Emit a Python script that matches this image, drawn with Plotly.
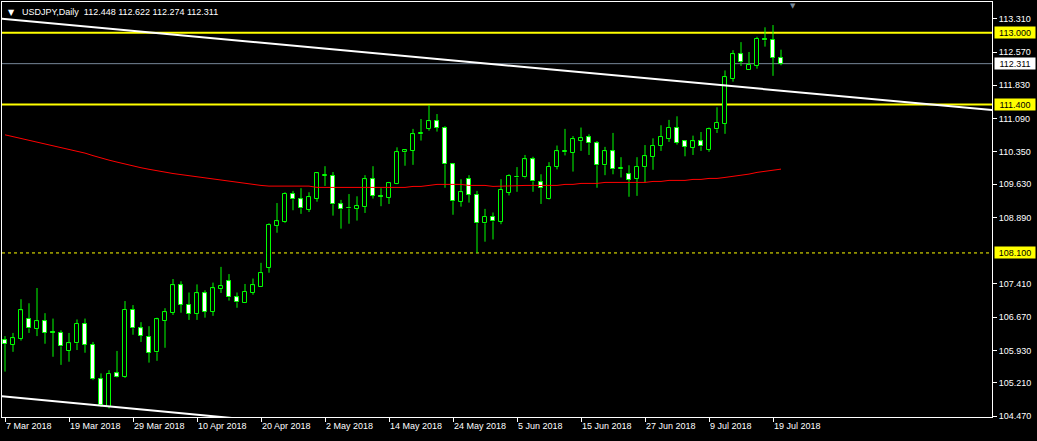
import plotly.graph_objects as go
import pandas as pd

# ---------------- data ----------------
dates = [d.strftime("%Y-%m-%d") for d in pd.bdate_range("2018-03-07", "2018-07-20")]

opens = [106.16, 106.06, 106.19, 106.64, 106.41, 106.58, 106.34, 106.33, 105.92, 106.09,
         106.53, 106.06, 105.29, 104.68, 105.42, 105.34, 106.84, 106.42, 106.24, 105.89,
         106.59, 106.77, 107.38, 106.95, 106.75, 107.20, 106.79, 107.30, 107.47, 107.11,
         106.99, 107.21, 107.35, 107.77, 108.70, 108.79, 109.42, 109.29, 109.06, 109.31,
         109.82, 109.82, 109.18, 109.11, 109.08, 109.13, 109.74, 109.37, 109.33, 109.64,
         110.34, 110.37, 110.74, 110.86, 111.03, 110.89, 110.07, 109.24, 109.74, 109.40,
         108.76, 108.91, 108.79, 109.44, 109.80, 109.78, 110.18, 109.67, 109.29, 110.02,
         110.34, 110.33, 110.60, 110.67, 110.54, 110.05, 110.36, 109.96, 109.85, 109.75,
         110.02, 110.24, 110.48, 110.64, 110.89, 110.58, 110.44, 110.58, 110.40, 110.85,
         110.97, 111.98, 112.52, 112.18, 112.26, 112.85, 112.84, 112.448]
highs = [106.25, 106.32, 107.07, 106.98, 107.32, 106.76, 106.64, 106.38, 106.32, 106.62,
         106.64, 106.12, 105.42, 105.49, 105.92, 107.03, 106.94, 106.56, 106.47, 106.66,
         106.87, 107.52, 107.47, 107.22, 107.40, 107.27, 107.44, 107.79, 107.63, 107.22,
         107.41, 107.53, 107.88, 108.76, 109.21, 109.45, 109.48, 109.54, 109.45, 109.90,
         110.03, 109.90, 109.28, 109.41, 109.36, 109.83, 110.03, 109.54, 109.68, 110.45,
         110.40, 110.86, 111.08, 111.39, 111.19, 110.92, 110.10, 109.74, 109.83, 109.48,
         109.08, 109.00, 109.74, 109.85, 110.01, 110.28, 110.24, 109.85, 110.12, 110.49,
         110.86, 110.70, 110.89, 110.74, 110.59, 110.46, 110.77, 110.23, 110.05, 110.23,
         110.50, 110.65, 110.94, 111.06, 111.14, 110.60, 110.71, 110.79, 110.89, 111.34,
         112.16, 112.61, 112.79, 112.57, 112.91, 113.12, 113.17, 112.622]
lows = [105.46, 105.90, 106.15, 106.32, 106.25, 106.08, 105.79, 105.61, 105.68, 105.94,
        105.88, 105.27, 104.68, 104.64, 105.33, 105.32, 106.28, 106.12, 105.66, 105.70,
        105.99, 106.72, 106.77, 106.61, 106.61, 106.66, 106.70, 107.21, 107.04, 106.88,
        106.99, 107.17, 107.35, 107.66, 108.55, 108.77, 109.05, 108.97, 109.01, 109.24,
        109.59, 108.93, 108.64, 108.75, 108.82, 108.99, 109.31, 109.14, 109.19, 109.63,
        110.04, 110.06, 110.60, 110.82, 110.80, 109.55, 108.95, 109.13, 109.22, 108.10,
        108.35, 108.40, 108.74, 109.38, 109.46, 109.76, 109.46, 109.19, 109.28, 109.96,
        110.27, 109.91, 110.37, 110.28, 109.55, 109.83, 109.85, 109.78, 109.35, 109.37,
        109.67, 109.95, 110.37, 110.57, 110.51, 110.25, 110.28, 110.37, 110.35, 110.77,
        110.75, 111.91, 112.26, 112.17, 112.20, 112.69, 112.04, 112.274]
closes = [106.07, 106.20, 106.82, 106.42, 106.58, 106.33, 106.32, 106.02, 106.09, 106.53,
          106.06, 105.29, 104.72, 105.41, 105.35, 106.84, 106.42, 106.26, 105.88, 106.62,
          106.78, 107.38, 106.95, 106.75, 107.20, 106.79, 107.31, 107.36, 107.11, 107.00,
          107.24, 107.38, 107.65, 108.72, 108.80, 109.42, 109.29, 109.09, 109.34, 109.87,
          109.84, 109.18, 109.07, 109.09, 109.14, 109.74, 109.37, 109.35, 109.65, 110.34,
          110.38, 110.74, 110.77, 111.03, 110.89, 110.07, 109.25, 109.45, 109.40, 108.76,
          108.91, 108.80, 109.51, 109.82, 109.78, 110.18, 109.69, 109.54, 110.02, 110.36,
          110.36, 110.63, 110.65, 110.54, 110.05, 110.36, 109.96, 109.98, 109.73, 110.02,
          110.25, 110.49, 110.69, 110.89, 110.55, 110.46, 110.58, 110.47, 110.85, 111.00,
          112.01, 112.52, 112.35, 112.28, 112.86, 112.83, 112.44, 112.311]
ma200 = [110.728, 110.688, 110.650, 110.610, 110.572, 110.530, 110.488, 110.446, 110.403, 110.361,
         110.321, 110.265, 110.210, 110.165, 110.121, 110.076, 110.032, 109.996, 109.961, 109.925,
         109.892, 109.867, 109.843, 109.818, 109.794, 109.767, 109.743, 109.716, 109.691, 109.669,
         109.647, 109.625, 109.602, 109.587, 109.587, 109.587, 109.587, 109.587, 109.587, 109.558,
         109.558, 109.558, 109.558, 109.558, 109.558, 109.558, 109.558, 109.558, 109.558, 109.558,
         109.558, 109.580, 109.580, 109.602, 109.625, 109.625, 109.625, 109.625, 109.602, 109.602,
         109.602, 109.580, 109.587, 109.602, 109.602, 109.602, 109.602, 109.602, 109.602, 109.602,
         109.625, 109.625, 109.647, 109.647, 109.647, 109.669, 109.669, 109.669, 109.669, 109.669,
         109.669, 109.691, 109.691, 109.714, 109.714, 109.714, 109.736, 109.736, 109.758, 109.758,
         109.780, 109.803, 109.825, 109.854, 109.892, 109.920, 109.943, 109.965]

tick_dates = ["2018-03-07", "2018-03-19", "2018-03-29", "2018-04-10", "2018-04-20", "2018-05-02",
              "2018-05-14", "2018-05-24", "2018-06-05", "2018-06-15", "2018-06-27", "2018-07-09",
              "2018-07-19"]
tick_labels = ["7 Mar 2018", "19 Mar 2018", "29 Mar 2018", "10 Apr 2018", "20 Apr 2018",
               "2 May 2018", "14 May 2018", "24 May 2018", "5 Jun 2018", "15 Jun 2018",
               "27 Jun 2018", "9 Jul 2018", "19 Jul 2018"]
price_ticks = [113.310, 112.570, 111.830, 111.090, 110.350, 109.630, 108.890,
               107.410, 106.670, 105.930, 105.210, 104.470]
level_lines = [113.000, 111.400]
dashed_level = 108.100
bid_price = 112.311
header = "USDJPY,Daily  112.448 112.622 112.274 112.311"
# trend lines: (bar index, price) anchor pairs
trend_upper = [(-1, 113.318), (124, 111.268)]
trend_lower = [(-1, 104.921), (30, 104.400)]

# ---------------- figure ----------------
GREEN = "#00ff00"
YELLOW = "#ffff00"
FONT = "Liberation Sans, Arial, sans-serif"

idx = list(range(len(dates)))

# wicks outside the bodies (bars are drawn beneath scatter lines)
wx, wy = [], []
for i, o, h, l, c in zip(idx, opens, highs, lows, closes):
    lo_b, hi_b = min(o, c), max(o, c)
    if l < lo_b:
        wx += [i, i, None]
        wy += [l, lo_b, None]
    if h > hi_b:
        wx += [i, i, None]
        wy += [hi_b, h, None]

bases = [min(o, c) for o, c in zip(opens, closes)]
heights = [max(abs(c - o), 0.012) for o, c in zip(opens, closes)]
fills = ["#000000" if c >= o else "#ffffff" for o, c in zip(opens, closes)]

fig = go.Figure()
fig.add_trace(go.Bar(x=idx, y=heights, base=bases, width=0.5,
                     marker=dict(color=fills, line=dict(color=GREEN, width=1)),
                     hoverinfo="skip", showlegend=False))
fig.add_trace(go.Scatter(x=wx, y=wy, mode="lines", line=dict(color=GREEN, width=1),
                         hoverinfo="skip", showlegend=False))
fig.add_trace(go.Scatter(x=idx, y=ma200, mode="lines", line=dict(color="#ff0000", width=1),
                         hoverinfo="skip", showlegend=False))

shapes = []
for lv in level_lines:
    shapes.append(dict(type="line", xref="paper", x0=0, x1=1, yref="y", y0=lv, y1=lv,
                       line=dict(color=YELLOW, width=2), layer="below"))
shapes.append(dict(type="line", xref="paper", x0=0, x1=1, yref="y", y0=dashed_level, y1=dashed_level,
                   line=dict(color=YELLOW, width=1, dash="3px,3px"), layer="below"))
shapes.append(dict(type="line", xref="paper", x0=0, x1=1, yref="y", y0=bid_price, y1=bid_price,
                   line=dict(color="#778899", width=1), layer="below"))
for tl in (trend_upper, trend_lower):
    shapes.append(dict(type="line", xref="x", yref="y", x0=tl[0][0], y0=tl[0][1],
                       x1=tl[1][0], y1=tl[1][1], line=dict(color="#ffffff", width=2)))

annotations = [
    dict(text="▼", xref="paper", yref="paper", x=0.0101, y=0.974, showarrow=False,
         font=dict(color="#ffffff", size=8, family="DejaVu Sans"), xanchor="center", yanchor="middle"),
    dict(text=header, xref="paper", yref="paper", x=0.0182, y=0.976, showarrow=False,
         font=dict(color="#ffffff", size=9, family=FONT), xanchor="left", yanchor="middle"),
    dict(text="▼", xref="x", yref="paper", x=98.5, y=0.99, showarrow=False,
         font=dict(color="#778899", size=7, family="DejaVu Sans"), xanchor="center", yanchor="middle"),
]
for lv, bg in [(113.000, YELLOW), (111.400, YELLOW), (dashed_level, YELLOW), (bid_price, "#ffffff")]:
    annotations.append(dict(text=f"{lv:.3f}", xref="paper", yref="y", x=1, y=lv, xshift=2,
                            showarrow=False, xanchor="left", yanchor="middle", bgcolor=bg,
                            font=dict(color="#000000", size=9, family=FONT),
                            width=38, height=9, borderpad=1, align="center"))

fig.update_layout(
    width=1037, height=441, autosize=False,
    margin=dict(l=2, r=45, t=2, b=24),
    paper_bgcolor="#000000", plot_bgcolor="#000000",
    shapes=shapes, annotations=annotations, bargap=0,
    xaxis=dict(range=[-0.375, 123.375], showgrid=False, zeroline=False,
               showline=True, linecolor="#ffffff", linewidth=1, mirror=True,
               ticks="outside", ticklen=4, tickcolor="#ffffff",
               tickvals=[dates.index(d) for d in tick_dates], ticktext=tick_labels,
               tickfont=dict(color="#ffffff", size=9, family=FONT),
               ticklabelposition="outside right"),
    yaxis=dict(range=[104.45, 113.683], side="right", showgrid=False, zeroline=False,
               showline=True, linecolor="#ffffff", linewidth=1, mirror=True,
               ticks="outside", ticklen=4, tickcolor="#ffffff",
               tickvals=price_ticks, ticktext=[f"{p:.3f}" for p in price_ticks],
               tickfont=dict(color="#ffffff", size=9, family=FONT)),
)

fig.write_html("out.html", config={"displayModeBar": False},
               post_script="document.body.style.margin='0';document.body.style.background='#000';")
